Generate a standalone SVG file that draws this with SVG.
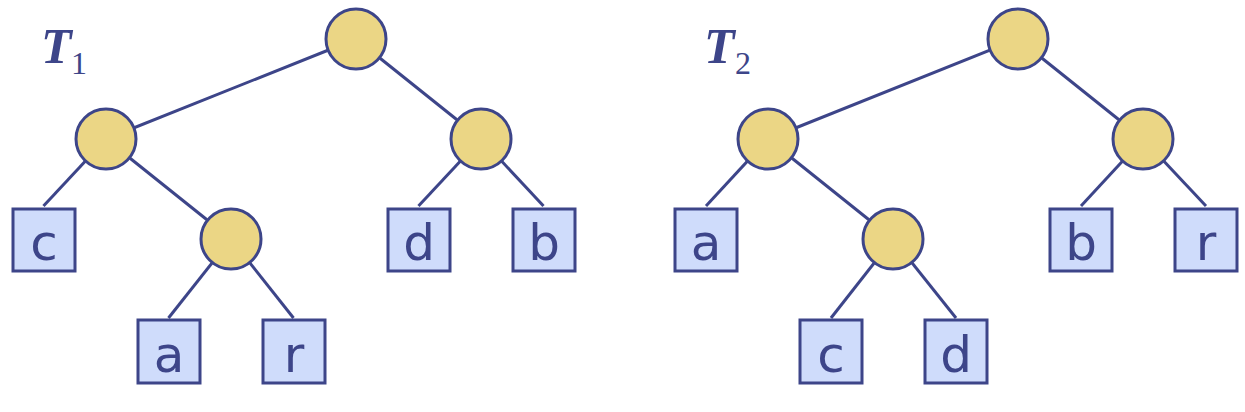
<svg xmlns="http://www.w3.org/2000/svg" width="1245" height="412" viewBox="0 0 1245 412">
<style>
.e{stroke:#3d4589;stroke-width:3;fill:none}
.n{fill:#ebd685;stroke:#3d4589;stroke-width:3}
.l{fill:#cfdcfb;stroke:#3d4589;stroke-width:3}
.t{font-family:"DejaVu Sans",Verdana,sans-serif;font-size:50px;fill:#3d4589;text-anchor:middle}
.T{font-family:"Liberation Serif",serif;font-weight:bold;font-style:italic;font-size:50px;fill:#3d4589}
.s{font-family:"Liberation Serif",serif;font-size:32px;fill:#3d4589}
</style>
<g id="connectors">
<line class="e" x1="356" y1="39" x2="106" y2="139"/>
<line class="e" x1="356" y1="39" x2="481" y2="139"/>
<line class="e" x1="106" y1="139" x2="43.5" y2="206"/>
<line class="e" x1="106" y1="139" x2="231" y2="239"/>
<line class="e" x1="231" y1="239" x2="168.5" y2="318"/>
<line class="e" x1="231" y1="239" x2="293.5" y2="318"/>
<line class="e" x1="481" y1="139" x2="418.5" y2="206"/>
<line class="e" x1="481" y1="139" x2="543.5" y2="206"/>
<line class="e" x1="1018" y1="39" x2="768" y2="139"/>
<line class="e" x1="1018" y1="39" x2="1143" y2="139"/>
<line class="e" x1="768" y1="139" x2="706" y2="206"/>
<line class="e" x1="768" y1="139" x2="893" y2="239"/>
<line class="e" x1="893" y1="239" x2="831" y2="318"/>
<line class="e" x1="893" y1="239" x2="956" y2="318"/>
<line class="e" x1="1143" y1="139" x2="1081" y2="206"/>
<line class="e" x1="1143" y1="139" x2="1206" y2="206"/>
</g>
<g id="label1"><text class="T" x="41" y="63">T</text><text class="s" x="71" y="74">1</text></g>
<g id="label2"><text class="T" x="704" y="63">T</text><text class="s" x="735" y="74">2</text></g>
<g id="t1-root"><circle class="n" cx="356" cy="39" r="30"/></g>
<g id="t1-left"><circle class="n" cx="106" cy="139" r="30"/></g>
<g id="t1-right"><circle class="n" cx="481" cy="139" r="30"/></g>
<g id="t1-mid"><circle class="n" cx="231" cy="239" r="30"/></g>
<g id="t1-c"><rect class="l" x="13" y="209" width="62" height="62"/><text class="t" x="44" y="260">c</text></g>
<g id="t1-a"><rect class="l" x="138" y="320" width="62" height="63"/><text class="t" x="169" y="372">a</text></g>
<g id="t1-r"><rect class="l" x="263" y="320" width="62" height="63"/><text class="t" x="294" y="372">r</text></g>
<g id="t1-d"><rect class="l" x="388" y="209" width="62" height="62"/><text class="t" x="419" y="260">d</text></g>
<g id="t1-b"><rect class="l" x="513" y="209" width="62" height="62"/><text class="t" x="544" y="260">b</text></g>
<g id="t2-root"><circle class="n" cx="1018" cy="39" r="30"/></g>
<g id="t2-left"><circle class="n" cx="768" cy="139" r="30"/></g>
<g id="t2-right"><circle class="n" cx="1143" cy="139" r="30"/></g>
<g id="t2-mid"><circle class="n" cx="893" cy="239" r="30"/></g>
<g id="t2-a"><rect class="l" x="675" y="209" width="62" height="62"/><text class="t" x="706" y="260">a</text></g>
<g id="t2-c"><rect class="l" x="800" y="320" width="62" height="63"/><text class="t" x="831" y="372">c</text></g>
<g id="t2-d"><rect class="l" x="925" y="320" width="62" height="63"/><text class="t" x="956" y="372">d</text></g>
<g id="t2-b"><rect class="l" x="1050" y="209" width="62" height="62"/><text class="t" x="1081" y="260">b</text></g>
<g id="t2-r"><rect class="l" x="1175" y="209" width="62" height="62"/><text class="t" x="1206" y="260">r</text></g>
</svg>
